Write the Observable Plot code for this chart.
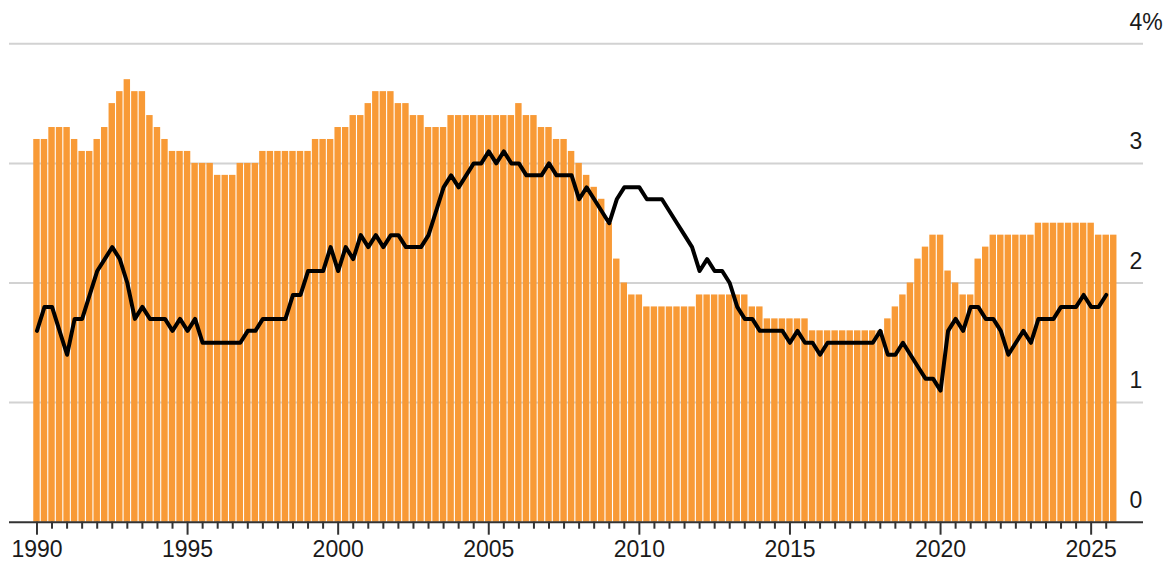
<!DOCTYPE html>
<html>
<head>
<meta charset="utf-8">
<script src="https://cdn.jsdelivr.net/npm/d3@7"></script>
<script src="https://cdn.jsdelivr.net/npm/@observablehq/plot@0.6"></script>
<style>
  html, body { margin: 0; padding: 0; background: #fff; }
  #chart { width: 1168px; height: 561px; }
</style>
</head>
<body>
<div id="chart"></div>
<script>
// Quarterly series, starting 1990 Q1
const startYear = 1990;
const barValues = [
  3.2,3.2,3.3,3.3, 3.3,3.2,3.1,3.1, 3.2,3.3,3.5,3.6, 3.7,3.6,3.6,3.4,
  3.3,3.2,3.1,3.1, 3.1,3.0,3.0,3.0, 2.9,2.9,2.9,3.0, 3.0,3.0,3.1,3.1,
  3.1,3.1,3.1,3.1, 3.1,3.2,3.2,3.2, 3.3,3.3,3.4,3.4, 3.5,3.6,3.6,3.6,
  3.5,3.5,3.4,3.4, 3.3,3.3,3.3,3.4, 3.4,3.4,3.4,3.4, 3.4,3.4,3.4,3.4,
  3.5,3.4,3.4,3.3, 3.3,3.2,3.2,3.1, 3.0,2.9,2.8,2.7, 2.5,2.2,2.0,1.9,
  1.9,1.8,1.8,1.8, 1.8,1.8,1.8,1.8, 1.9,1.9,1.9,1.9, 1.9,1.9,1.9,1.8,
  1.8,1.7,1.7,1.7, 1.7,1.7,1.7,1.6, 1.6,1.6,1.6,1.6, 1.6,1.6,1.6,1.6,
  1.6,1.7,1.8,1.9, 2.0,2.2,2.3,2.4, 2.4,2.1,2.0,1.9, 1.9,2.2,2.3,2.4,
  2.4,2.4,2.4,2.4, 2.4,2.5,2.5,2.5, 2.5,2.5,2.5,2.5, 2.5,2.4,2.4,2.4
];
const lineValues = [
  1.6,1.8,1.8,1.6, 1.4,1.7,1.7,1.9, 2.1,2.2,2.3,2.2, 2.0,1.7,1.8,1.7,
  1.7,1.7,1.6,1.7, 1.6,1.7,1.5,1.5, 1.5,1.5,1.5,1.5, 1.6,1.6,1.7,1.7,
  1.7,1.7,1.9,1.9, 2.1,2.1,2.1,2.3, 2.1,2.3,2.2,2.4, 2.3,2.4,2.3,2.4,
  2.4,2.3,2.3,2.3, 2.4,2.6,2.8,2.9, 2.8,2.9,3.0,3.0, 3.1,3.0,3.1,3.0,
  3.0,2.9,2.9,2.9, 3.0,2.9,2.9,2.9, 2.7,2.8,2.7,2.6, 2.5,2.7,2.8,2.8,
  2.8,2.7,2.7,2.7, 2.6,2.5,2.4,2.3, 2.1,2.2,2.1,2.1, 2.0,1.8,1.7,1.7,
  1.6,1.6,1.6,1.6, 1.5,1.6,1.5,1.5, 1.4,1.5,1.5,1.5, 1.5,1.5,1.5,1.5,
  1.6,1.4,1.4,1.5, 1.4,1.3,1.2,1.2, 1.1,1.6,1.7,1.6, 1.8,1.8,1.7,1.7,
  1.6,1.4,1.5,1.6, 1.5,1.7,1.7,1.7, 1.8,1.8,1.8,1.9, 1.8,1.8,1.9
];
const xTickYears = [1990, 1995, 2000, 2005, 2010, 2015, 2020, 2025];
const yTickValues = [0, 1, 2, 3, 4];
const yTickLabels = ["0", "1", "2", "3", "4%"];

const bars = barValues.map((v, i) => ({t: startYear + i * 0.25, v}));
const line = lineValues.map((v, i) => ({t: startYear + i * 0.25, v}));
const minorTicks = d3.range(1990, 2025.51, 0.5).filter(d => d % 5 !== 0);

const barColor = "#f89a36";

const chart = Plot.plot({
  width: 1168,
  height: 561,
  marginLeft: 9,
  marginRight: 25,
  marginTop: 43.3,
  marginBottom: 39.3,
  style: {fontFamily: "'Liberation Sans', Arial, Helvetica, sans-serif", fontSize: "23px", color: "#1a1a1a", background: "#fff"},
  x: {domain: [1989.088, 2026.738]},
  y: {domain: [0, 4]},
  marks: [
    Plot.ruleY([1, 2, 3, 4], {stroke: "#d2d2d2", strokeWidth: 2}),
    Plot.rectY(bars, {
      x1: d => d.t - 0.125,
      x2: d => d.t + 0.125,
      y1: 0,
      y2: "v",
      fill: barColor,
      insetLeft: 0.55,
      insetRight: 0.55
    }),
    Plot.line(line, {x: "t", y: "v", stroke: "#000", strokeWidth: 4, strokeLinejoin: "round", strokeLinecap: "round"}),
    Plot.ruleY([0], {stroke: "#333", strokeWidth: 2}),
    Plot.axisX({ticks: minorTicks, tickSize: 7, text: null, label: null, strokeWidth: 2, stroke: "#333"}),
    Plot.axisX({ticks: xTickYears, tickSize: 13, tickPadding: 5, tickFormat: "d", label: null, strokeWidth: 2, stroke: "#333"}),
    Plot.axisY({
      anchor: "right",
      ticks: yTickValues,
      tickFormat: d => yTickLabels[yTickValues.indexOf(d)],
      tickSize: 0,
      tickPadding: 0,
      textAnchor: "start",
      dx: -14,
      dy: -21.5,
      label: null
    })
  ]
});
document.getElementById("chart").appendChild(chart);
</script>
</body>
</html>
